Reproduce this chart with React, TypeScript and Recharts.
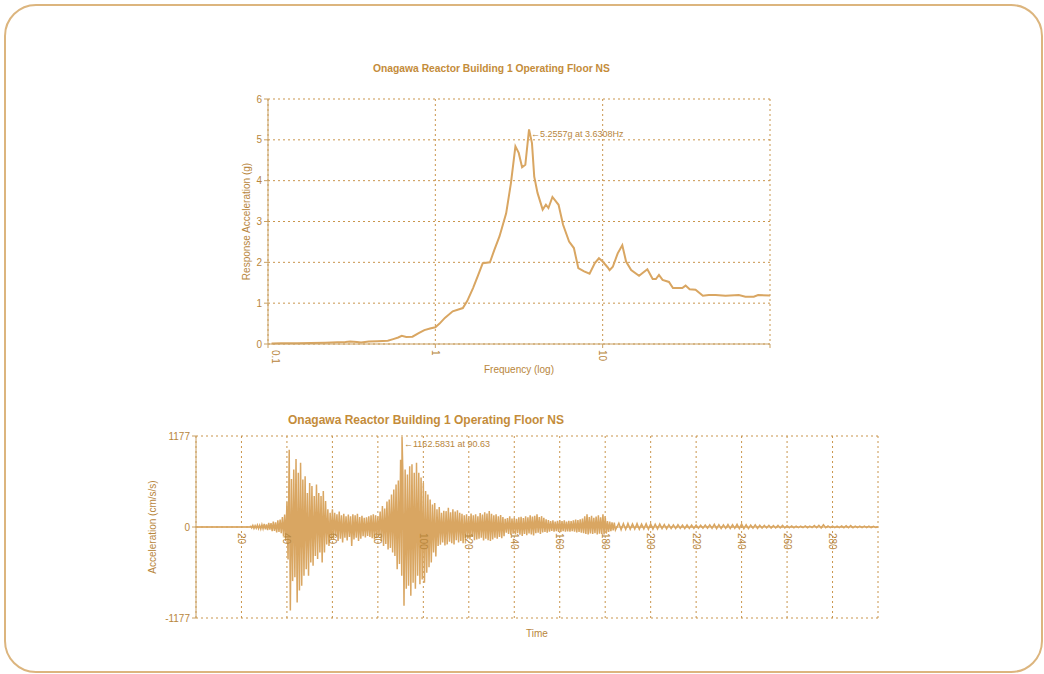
import React from "react";
import {
  LineChart,
  Line,
  XAxis,
  YAxis,
  CartesianGrid,
  ReferenceLine,
  ReferenceDot,
  Label,
} from "recharts";

const TITLE = "Onagawa Reactor Building 1 Operating Floor NS";

// response spectrum: frequency (Hz) vs response acceleration (g)
const freqHz = [
  0.105, 0.12, 0.15, 0.18, 0.22, 0.26, 0.29, 0.31, 0.34, 0.36, 0.4, 0.45, 0.52, 0.56, 0.6, 0.63, 0.67, 0.73,
  0.8, 0.86, 0.93, 1.0, 1.06, 1.14, 1.27, 1.46, 1.55, 1.68, 1.8, 1.92, 2.12, 2.25, 2.42, 2.65, 2.83, 3.01,
  3.15, 3.3, 3.45, 3.6308, 3.78, 3.9, 4.08, 4.38, 4.58, 4.74, 5.01, 5.45, 5.8, 6.3, 6.73, 7.15, 7.75, 8.35,
  8.98, 9.5, 10.0, 10.7, 11.0, 11.5, 12.3, 13.1, 13.8, 14.8, 16.5, 18.5, 19.9, 20.8, 21.7, 22.8, 24.9, 26.3,
  29.9, 31.3, 33.1, 35.9, 39.7, 43.1, 47.3, 54.2, 65.1, 71.3, 80, 84.9, 100,
];
const responseG = [
  0.015, 0.016, 0.02, 0.025, 0.03, 0.04, 0.05, 0.06, 0.05, 0.035, 0.06, 0.07, 0.08, 0.12, 0.16, 0.2, 0.17, 0.18,
  0.27, 0.34, 0.38, 0.41, 0.5, 0.64, 0.8, 0.88, 1.05, 1.37, 1.68, 1.98, 2.0, 2.3, 2.64, 3.2, 3.94, 4.84,
  4.68, 4.33, 4.39, 5.2557, 4.92, 4.1, 3.7, 3.29, 3.41, 3.33, 3.6, 3.41, 2.92, 2.51, 2.35, 1.86, 1.78, 1.72,
  1.98, 2.1, 2.02, 1.88, 1.81, 1.89, 2.22, 2.42, 2.02, 1.81, 1.67, 1.83, 1.59, 1.59, 1.69, 1.57, 1.52, 1.37,
  1.37, 1.43, 1.34, 1.33, 1.18, 1.2, 1.2, 1.18, 1.2, 1.16, 1.16, 1.2, 1.19,
];
const freqTicks = [0.1, 1, 10, 100];
const gTicks = [0, 1, 2, 3, 4, 5, 6];
const specPeak = { f: 3.6308, g: 5.2557 };

// time history peaks (cm/s/s), first part 1 s apart from 24 s
const wave1Start = 24;
const wavePos1 = [
  15, 20, 18, 25, 22, 30, 40, 35, 55, 50,
  70, 60, 85, 95, 130, 160, 320, 1000, 620, 745,
  880, 700, 830, 615, 655, 440, 570, 530, 400, 550,
  440, 400, 465, 335, 230, 185, 230, 185, 165, 200,
  150, 170, 140, 160, 140, 165, 150, 170, 130, 145,
  120, 125, 140, 150, 165, 150, 140, 200, 270, 240,
  330, 355, 420, 485, 550, 600, 870, 700, 745, 680,
  785, 810, 700, 830, 700, 640, 570, 465, 420, 355,
  290, 310, 230, 260, 185, 210, 205, 250, 190, 230,
  200, 215, 185, 170, 150, 165, 140, 175, 150, 165,
  140, 180, 160, 190, 175, 205, 170, 150, 165, 140,
  155, 130, 107, 115, 140, 110, 120, 105, 125, 133,
  115, 140, 125, 150, 135, 145, 163, 130, 140, 120,
  100, 90, 77, 85, 70, 80, 90, 75, 85, 70,
  80, 77, 85, 95, 90, 100, 110, 140, 163, 130,
  145, 120, 135, 150, 125, 163, 140, 77, 70, 60,
  56,
];
const waveNeg1 = [
  -12, -18, -15, -20, -25, -22, -30, -40, -35, -55,
  -50, -70, -65, -80, -115, -180, -420, -1080, -700, -650,
  -975, -820, -760, -630, -545, -630, -460, -500, -375, -415,
  -330, -460, -330, -225, -245, -160, -160, -115, -180, -150,
  -200, -140, -175, -130, -245, -160, -140, -180, -150, -120,
  -135, -115, -130, -145, -160, -130, -115, -180, -245, -220,
  -290, -270, -330, -375, -545, -480, -630, -1020, -800, -760,
  -890, -720, -800, -630, -740, -680, -720, -590, -520, -460,
  -330, -380, -245, -230, -200, -240, -225, -190, -210, -225,
  -170, -200, -180, -210, -160, -150, -160, -130, -170, -160,
  -150, -140, -175, -150, -170, -180, -160, -140, -150, -130,
  -145, -120, -73, -90, -100, -85, -95, -80, -100, -116,
  -90, -105, -85, -95, -110, -80, -73, -90, -70, -64,
  -75, -60, -52, -60, -55, -65, -64, -55, -60, -58,
  -62, -55, -60, -70, -65, -75, -80, -90, -95, -85,
  -90, -80, -95, -88, -90, -95, -85, -64, -55, -45,
  -39,
];
// second part 2 s apart from 186 s
const wave2Start = 186;
const wavePos2 = [
  50, 45, 47, 40, 45, 38, 43, 40, 35, 38,
  32, 30, 28, 30, 25, 28, 24, 26, 22, 25,
  28, 34, 30, 28, 32, 30, 34, 38, 30, 25,
  28, 22, 20, 22, 18, 20, 22, 15, 13, 12,
  10, 14, 12, 18, 22, 30, 14, 12, 10, 14,
  16, 18, 12, 10, 12, 10, 8,
];
const waveNeg2 = [
  -35, -32, -30, -28, -30, -25, -30, -28, -25, -22,
  -24, -21, -20, -18, -20, -17, -18, -17, -15, -16,
  -18, -21, -20, -18, -20, -18, -21, -22, -20, -16,
  -18, -15, -12, -14, -12, -12, -13, -10, -9, -8,
  -7, -9, -8, -10, -12, -10, -8, -9, -7, -9,
  -10, -9, -8, -7, -8, -7, -6,
];
const timeTicks = [20, 40, 60, 80, 100, 120, 140, 160, 180, 200, 220, 240, 260, 280, 300];
const accTicks = [-1177, 0, 1177];
const timePeak = { t: 90.63, a: 1162.5831 };

const LINE = "#d9a662";
const AXIS = "#c9a063";
const GRID = "#c9954c";
const TEXT = "#b8863c";
const TITLE_C = "#c48c3a";
const FONT = "'Liberation Sans', Arial, sans-serif";

const specData = freqHz.map((f, i) => ({ f, g: responseG[i] }));

const waveData: { t: number; a: number }[] = [
  { t: 0, a: 0 },
  { t: wave1Start, a: 0 },
];
wavePos1.forEach((p, i) => {
  const t = wave1Start + i;
  waveData.push({ t, a: p }, { t: t + 0.5, a: waveNeg1[i] });
  if (t === 90) waveData.push({ t: timePeak.t, a: timePeak.a });
});
wavePos2.forEach((p, i) => {
  const t = wave2Start + i * 2;
  waveData.push({ t, a: p }, { t: t + 1, a: waveNeg2[i] });
});
waveData.push({ t: 300, a: 0 });

// bottom plot is 182px tall, the time labels sit just under its zero line
const PLOT2_H = 182;

const FreqTick = (props: any) => {
  const { x, y, payload } = props;
  if (payload.value >= 100) return <g />;
  const shift = payload.value === 0.1 ? 7 : 0;
  return (
    <g transform={`translate(${x + shift},${y}) rotate(90)`}>
      <text x={0} y={0} dy="0.35em" textAnchor="start" fill={TEXT} fontSize={10}>
        {payload.value}
      </text>
    </g>
  );
};

const TimeTick = (props: any) => {
  const { x, y, payload } = props;
  if (payload.value >= 300) return <g />;
  return (
    <g transform={`translate(${x},${y - PLOT2_H / 2 + 6}) rotate(90)`}>
      <text x={0} y={0} dy="0.35em" textAnchor="start" fill={TEXT} fontSize={10}>
        {payload.value}
      </text>
    </g>
  );
};

const PeakNote = (text: string, dy: number) => (p: any) => (
  <text x={p.viewBox.x + 2} y={p.viewBox.y + dy} fill={TEXT} fontSize={9}>
    {text}
  </text>
);

export default function App() {
  return (
    <div style={{ position: "absolute", left: 0, top: 0, width: 1044, height: 674, background: "#fff", fontFamily: FONT }}>
      <div
        style={{
          position: "absolute",
          left: 4,
          top: 4,
          width: 1039,
          height: 669,
          boxSizing: "border-box",
          border: "2px solid #dcb57e",
          borderRadius: 32,
        }}
      />
      <div style={{ position: "absolute", left: 373, top: 63, fontSize: 10.3, fontWeight: "bold", color: TITLE_C, whiteSpace: "nowrap" }}>
        {TITLE}
      </div>
      <div style={{ position: "absolute", left: 288, top: 413, fontSize: 12, fontWeight: "bold", color: TITLE_C, whiteSpace: "nowrap" }}>
        {TITLE}
      </div>

      <div style={{ position: "absolute", left: 0, top: 0 }}>
        <LineChart width={1044} height={400} data={specData} margin={{ top: 99, right: 274, bottom: 26, left: 238 }}>
          <CartesianGrid stroke={GRID} strokeDasharray="2 3" />
          <XAxis
            dataKey="f"
            type="number"
            scale="log"
            domain={[0.1, 100]}
            ticks={freqTicks}
            allowDataOverflow
            height={30}
            stroke={AXIS}
            tickSize={4}
            tick={FreqTick}
            interval={0}
          >
            <Label value="Frequency (log)" position="center" dy={10} fill={TEXT} fontSize={10} />
          </XAxis>
          <YAxis
            domain={[0, 6]}
            ticks={gTicks}
            width={30}
            stroke={AXIS}
            tickSize={4}
            tick={{ fill: TEXT, fontSize: 10 }}
            interval={0}
          >
            <Label value="Response Acceleration (g)" angle={-90} position="center" dx={-7} fill={TEXT} fontSize={10} />
          </YAxis>
          <Line dataKey="g" stroke={LINE} strokeWidth={2} dot={false} type="linear" isAnimationActive={false} />
          <ReferenceDot
            x={specPeak.f}
            y={specPeak.g}
            r={0}
            fill="none"
            stroke="none"
            label={PeakNote(`←${specPeak.g}g at ${specPeak.f}Hz`, 8)}
          />
        </LineChart>
      </div>

      <div style={{ position: "absolute", left: 0, top: 400 }}>
        <LineChart width={1044} height={274} data={waveData} margin={{ top: 36, right: 166, bottom: 26, left: 156 }}>
          <CartesianGrid stroke={GRID} strokeDasharray="2 3" />
          <XAxis
            dataKey="t"
            type="number"
            domain={[0, 300]}
            ticks={timeTicks}
            height={30}
            axisLine={false}
            tickLine={false}
            tickSize={0}
            tickMargin={0}
            tick={TimeTick}
            interval={0}
          >
            <Label value="Time" position="center" fill={TEXT} fontSize={10} />
          </XAxis>
          <YAxis
            domain={[-1177, 1177]}
            ticks={accTicks}
            width={40}
            stroke={AXIS}
            tickSize={4}
            tick={{ fill: TEXT, fontSize: 10 }}
            interval={0}
          >
            <Label value="Acceleration (cm/s/s)" angle={-90} position="center" dx={-24} fill={TEXT} fontSize={10} />
          </YAxis>
          <ReferenceLine y={0} stroke={LINE} />
          <Line dataKey="a" stroke={LINE} strokeWidth={1.5} dot={false} type="linear" isAnimationActive={false} />
          <ReferenceDot
            x={timePeak.t}
            y={timePeak.a}
            r={0}
            fill="none"
            stroke="none"
            label={PeakNote(`←${timePeak.a} at ${timePeak.t}`, 10)}
          />
        </LineChart>
      </div>
    </div>
  );
}
